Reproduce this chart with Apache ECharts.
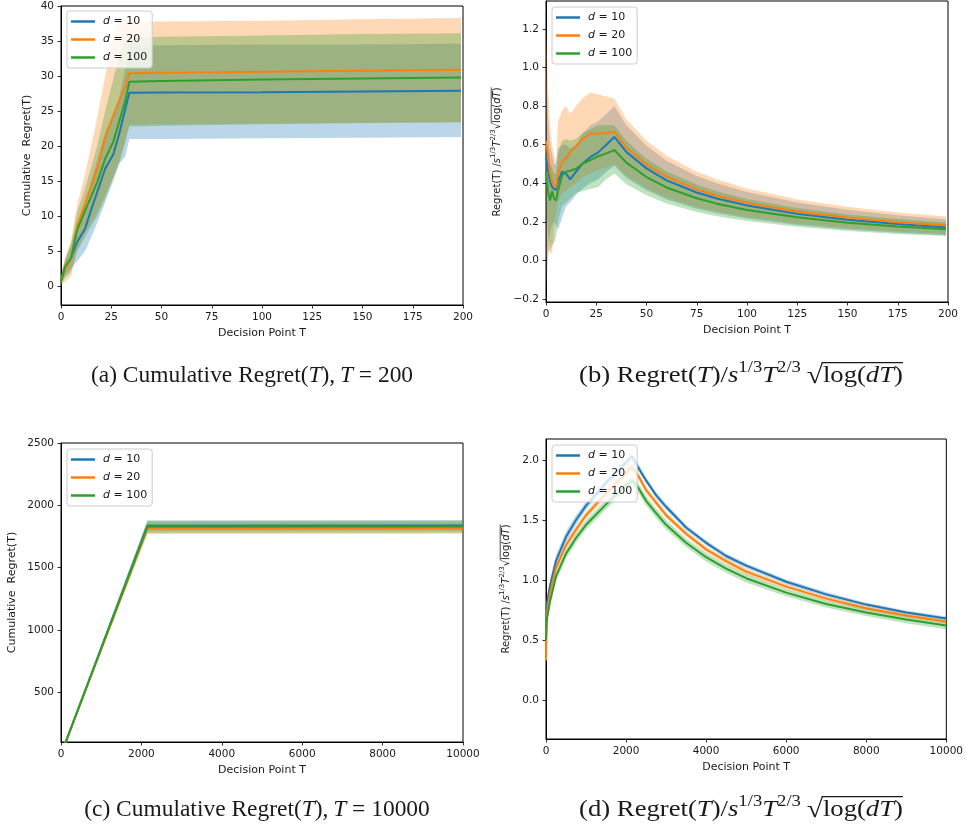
<!DOCTYPE html>
<html>
<head>
<meta charset="utf-8">
<script src="https://cdn.jsdelivr.net/npm/echarts@6/dist/echarts.min.js"></script>
<style>
  html, body { margin: 0; padding: 0; background: #fff; }
  #chart { width: 966px; height: 831px; }
</style>
</head>
<body>
<div id="chart"></div>
<script>
// (a) cumulative regret, T = 200
const tA = [0, 2, 5, 8, 12, 15, 18, 22, 26, 29, 32, 34, 50, 100, 150, 199];
const a10 = [0.8, 2.5, 4.0, 6.3, 8.2, 10.9, 13.4, 16.8, 18.8, 21.8, 25.3, 27.6, 27.65, 27.7, 27.8, 27.9];
const a10Lo = [0.3, 1.5, 2.5, 3.5, 5.0, 7.0, 9.0, 12.0, 15.0, 17.5, 18.5, 21.0, 21.0, 21.1, 21.2, 21.3];
const a10Hi = [1.4, 3.5, 5.8, 9.0, 12.0, 15.0, 18.0, 22.0, 24.5, 27.0, 31.0, 34.3, 34.4, 34.5, 34.5, 34.6];
const a20 = [1.0, 2.4, 3.8, 8.5, 11.8, 14.2, 16.7, 21.2, 24.3, 26.5, 28.5, 30.4, 30.45, 30.6, 30.75, 30.9];
const a20Lo = [0.2, 0.6, 1.5, 5.0, 7.5, 9.0, 10.5, 13.0, 15.5, 18.0, 21.0, 23.0, 23.1, 23.2, 23.3, 23.4];
const a20Hi = [1.6, 4.0, 6.5, 11.5, 16.0, 20.0, 24.0, 30.0, 35.5, 37.5, 37.8, 37.8, 37.8, 37.9, 38.1, 38.3];
const a100 = [0.6, 2.8, 4.0, 8.0, 10.8, 12.8, 14.8, 18.2, 20.6, 23.5, 26.5, 29.2, 29.3, 29.5, 29.65, 29.8];
const a100Lo = [0.2, 1.2, 2.0, 5.0, 7.0, 8.5, 10.0, 12.5, 15.5, 17.5, 20.5, 22.8, 22.9, 23.1, 23.3, 23.4];
const a100Hi = [1.5, 3.8, 6.0, 10.5, 14.0, 17.0, 20.0, 25.0, 29.5, 33.0, 35.0, 35.5, 35.6, 35.8, 36.0, 36.1];

// (b) normalised regret, T = 200
const tB = [0, 1, 2, 3, 4, 5, 6, 8, 10, 12, 15, 18, 22, 26, 30, 34, 40, 50, 60, 75, 85, 100, 125, 150, 175, 199];
const b10 = [0.54, 0.47, 0.41, 0.38, 0.37, 0.365, 0.41, 0.46, 0.45, 0.42, 0.46, 0.50, 0.535, 0.56, 0.60, 0.64, 0.562, 0.477, 0.415, 0.352, 0.321, 0.285, 0.241, 0.211, 0.188, 0.171];
const b10Lo = [-0.15, 0.02, 0.15, 0.18, 0.2, 0.18, 0.16, 0.22, 0.28, 0.30, 0.34, 0.37, 0.40, 0.42, 0.46, 0.49, 0.427, 0.363, 0.315, 0.268, 0.244, 0.217, 0.183, 0.16, 0.143, 0.13];
const b10Hi = [1.0, 0.75, 0.6, 0.55, 0.5, 0.5, 0.58, 0.6, 0.6, 0.58, 0.6, 0.65, 0.7, 0.72, 0.76, 0.8, 0.70, 0.594, 0.517, 0.438, 0.40, 0.355, 0.3, 0.263, 0.234, 0.213];
const b20 = [0.62, 0.55, 0.45, 0.41, 0.385, 0.38, 0.45, 0.51, 0.53, 0.56, 0.59, 0.63, 0.655, 0.658, 0.66, 0.667, 0.585, 0.497, 0.434, 0.368, 0.336, 0.298, 0.253, 0.222, 0.198, 0.182];
const b20Lo = [0.0, 0.05, 0.04, 0.04, 0.15, 0.25, 0.3, 0.35, 0.36, 0.38, 0.4, 0.43, 0.45, 0.47, 0.48, 0.5, 0.439, 0.373, 0.326, 0.276, 0.252, 0.224, 0.19, 0.167, 0.149, 0.137];
const b20Hi = [1.22, 0.9, 0.7, 0.6, 0.55, 0.5, 0.72, 0.78, 0.8, 0.76, 0.8, 0.84, 0.87, 0.86, 0.85, 0.84, 0.731, 0.62, 0.543, 0.46, 0.42, 0.372, 0.316, 0.278, 0.248, 0.228];
const b100 = [0.46, 0.36, 0.31, 0.36, 0.32, 0.31, 0.36, 0.44, 0.46, 0.465, 0.475, 0.5, 0.52, 0.54, 0.555, 0.572, 0.507, 0.432, 0.378, 0.322, 0.294, 0.261, 0.223, 0.195, 0.175, 0.161];
const b100Lo = [0.3, 0.15, 0.05, 0.08, 0.09, 0.12, 0.2, 0.28, 0.3, 0.32, 0.35, 0.36, 0.37, 0.38, 0.42, 0.45, 0.395, 0.337, 0.295, 0.251, 0.229, 0.204, 0.174, 0.152, 0.137, 0.126];
const b100Hi = [0.6, 0.55, 0.5, 0.48, 0.45, 0.45, 0.55, 0.62, 0.63, 0.62, 0.63, 0.66, 0.68, 0.7, 0.7, 0.7, 0.619, 0.527, 0.461, 0.393, 0.359, 0.318, 0.272, 0.238, 0.214, 0.196];

// (c) cumulative regret, T = 10000 (band = mean +- spread)
const tC = [0, 2150, 10000];
const c10 = [0, 1836, 1837];
const c20 = [0, 1815, 1816];
const c100 = [0, 1828, 1829];
const c10Sd = [0, 40, 40];
const c20Sd = [0, 45, 45];
const c100Sd = [0, 50, 50];

// (d) normalised regret, T = 10000
const tD = [0, 20, 100, 250, 500, 750, 1000, 1500, 2000, 2150, 2300, 2500, 2750, 3000, 3500, 4000, 4500, 5000, 6000, 7000, 8000, 9000, 10000];
const d10 = [0.6, 0.8, 0.95, 1.16, 1.36, 1.5, 1.62, 1.81, 1.98, 2.03, 1.94, 1.83, 1.707, 1.61, 1.437, 1.31, 1.2, 1.12, 0.985, 0.88, 0.795, 0.73, 0.68];
const d20 = [0.33, 0.72, 0.89, 1.1, 1.29, 1.42, 1.54, 1.72, 1.89, 1.94, 1.87, 1.75, 1.645, 1.54, 1.385, 1.255, 1.157, 1.07, 0.945, 0.845, 0.765, 0.705, 0.655];
const d100 = [0.5, 0.67, 0.82, 1.03, 1.22, 1.35, 1.46, 1.63, 1.79, 1.83, 1.77, 1.66, 1.557, 1.46, 1.31, 1.19, 1.095, 1.015, 0.895, 0.8, 0.73, 0.67, 0.62];
const d10Sd = [0.05, 0.05, 0.05, 0.05, 0.045, 0.04, 0.035, 0.03, 0.03, 0.03, 0.03, 0.025, 0.025, 0.025, 0.022, 0.02, 0.02, 0.02, 0.02, 0.02, 0.015, 0.015, 0.015];
const d20Sd = [0.03, 0.03, 0.03, 0.03, 0.03, 0.03, 0.03, 0.03, 0.03, 0.03, 0.03, 0.03, 0.028, 0.025, 0.025, 0.025, 0.025, 0.025, 0.02, 0.02, 0.02, 0.02, 0.02];
const d100Sd = [0.04, 0.04, 0.04, 0.04, 0.04, 0.04, 0.04, 0.04, 0.04, 0.04, 0.04, 0.04, 0.04, 0.04, 0.035, 0.035, 0.035, 0.035, 0.03, 0.03, 0.03, 0.03, 0.03];

const names = ['d = 10', 'd = 20', 'd = 100'];
const colors = ['#1f77b4', '#ff7f0e', '#2ca02c'];
const bandColors = ['rgba(31,119,180,0.3)', 'rgba(255,127,14,0.3)', 'rgba(44,160,44,0.3)'];
const FONT = 'DejaVu Sans';
const SERIF = 'Liberation Serif';
const INK = '#1a1a1a';

const lessSd = (m, s) => m.map((v, i) => v - s[i]);
const plusSd = (m, s) => m.map((v, i) => v + s[i]);

const panels = [
  { t: tA, mean: [a10, a20, a100], lo: [a10Lo, a20Lo, a100Lo], hi: [a10Hi, a20Hi, a100Hi] },
  { t: tB, mean: [b10, b20, b100], lo: [b10Lo, b20Lo, b100Lo], hi: [b10Hi, b20Hi, b100Hi] },
  { t: tC, mean: [c10, c20, c100],
    lo: [lessSd(c10, c10Sd), lessSd(c20, c20Sd), lessSd(c100, c100Sd)],
    hi: [plusSd(c10, c10Sd), plusSd(c20, c20Sd), plusSd(c100, c100Sd)] },
  { t: tD, mean: [d10, d20, d100],
    lo: [lessSd(d10, d10Sd), lessSd(d20, d20Sd), lessSd(d100, d100Sd)],
    hi: [plusSd(d10, d10Sd), plusSd(d20, d20Sd), plusSd(d100, d100Sd)] }
];

const grids = [
  { left: 61, top: 6, width: 402, height: 299 },
  { left: 546, top: 1, width: 402, height: 301 },
  { left: 61, top: 443, width: 402, height: 299 },
  { left: 546, top: 439, width: 402, height: 300 }
];

// fill_between-like band: one polygon through the axis scales
function bandSeries(gi, xs, lo, hi, k) {
  return {
    type: 'custom', xAxisIndex: gi, yAxisIndex: gi, silent: true, z: 1, clip: true,
    data: xs.map((x, j) => [x, lo[j], hi[j]]),
    encode: { x: 0, y: [1, 2] },
    renderItem: (params, api) => {
      if (params.dataIndex !== 0) return null;
      const pts = [];
      for (let j = 0; j < xs.length; j++) pts.push(api.coord([xs[j], hi[j]]));
      for (let j = xs.length - 1; j >= 0; j--) pts.push(api.coord([xs[j], lo[j]]));
      return { type: 'polygon', shape: { points: pts }, style: { fill: bandColors[k], stroke: null } };
    }
  };
}

function meanLine(gi, xs, ys, k) {
  return {
    type: 'line', name: names[k], xAxisIndex: gi, yAxisIndex: gi,
    symbol: 'none', showSymbol: false, z: 3, silent: true,
    data: xs.map((x, j) => [x, ys[j]]),
    lineStyle: { color: colors[k], width: 2 },
    itemStyle: { color: colors[k] },
    emphasis: { disabled: true }
  };
}

const series = [];
panels.forEach((p, gi) => {
  for (let k = 0; k < 3; k++) series.push(bandSeries(gi, p.t, p.lo[k], p.hi[k], k));
});
panels.forEach((p, gi) => {
  for (let k = 0; k < 3; k++) series.push(meanLine(gi, p.t, p.mean[k], k));
});

const axisLine = { show: true, onZero: false, lineStyle: { color: '#000', width: 1 } };
const axisTick = { show: true, inside: false, length: 3.5, lineStyle: { color: '#000', width: 0.8 } };
const labelStyle = { fontFamily: FONT, fontSize: 10.5, color: INK, margin: 7 };

const fmtInt = v => String(Math.round(v));
const fmt1 = v => (v < -1e-9 ? '\u2212' : '') + Math.abs(v).toFixed(1);

function xAxisCfg(gi, max, interval) {
  return {
    type: 'value', gridIndex: gi, min: 0, max: max, interval: interval,
    name: 'Decision Point T', nameLocation: 'middle', nameGap: 23,
    nameTextStyle: { fontFamily: FONT, fontSize: 11, color: INK },
    axisLine, axisTick, splitLine: { show: false },
    axisLabel: Object.assign({}, labelStyle, { showMinLabel: true, showMaxLabel: true, formatter: fmtInt })
  };
}

function yAxisCfg(gi, min, max, ticks, fmt, name, gap) {
  return {
    type: 'value', gridIndex: gi, min: min, max: max,
    name: name, nameLocation: 'middle', nameGap: gap,
    nameTextStyle: { fontFamily: FONT, fontSize: 11, color: INK },
    axisLine, splitLine: { show: false },
    axisTick: Object.assign({}, axisTick, { customValues: ticks }),
    axisLabel: Object.assign({}, labelStyle, { customValues: ticks, formatter: fmt })
  };
}

const ticksA = [0, 5, 10, 15, 20, 25, 30, 35, 40];
const ticksB = [-0.2, 0, 0.2, 0.4, 0.6, 0.8, 1.0, 1.2];
const ticksC = [500, 1000, 1500, 2000, 2500];
const ticksD = [0, 0.5, 1.0, 1.5, 2.0];

// math-style text built from pieces (italic, superscript, overline)
const measureCtx = document.createElement('canvas').getContext('2d');
function mathText(parts, cx, cy, size, family, rotation, stretch) {
  let x = 0;
  const spans = parts.map(([t, f = '']) => {
    const fs = f.includes('u') ? size * 0.7 : (f.includes('r') ? size * 1.1 : size);
    const st = f.includes('i') ? 'italic' : 'normal';
    measureCtx.font = st + ' ' + fs + 'px "' + family + '"';
    const w = measureCtx.measureText(t).width;
    const s = { t, fs, st, x, w, up: f.includes('u') ? size * 0.36 : 0, ol: f.includes('o') };
    x += w;
    return s;
  });
  const total = x;
  const kids = spans.map(s => ({
    type: 'text', x: s.x - total / 2, y: -s.up,
    style: {
      text: s.t, fontSize: s.fs, fontFamily: family, fontStyle: s.st, fill: INK,
      align: 'left', textAlign: 'left', verticalAlign: 'middle', textVerticalAlign: 'middle'
    }
  }));
  const ol = spans.filter(s => s.ol);
  if (ol.length) {
    const x1 = ol[0].x - total / 2 - size * 0.05;
    const x2 = ol[ol.length - 1].x + ol[ol.length - 1].w - total / 2;
    kids.push({
      type: 'line', shape: { x1: x1, y1: -size * 0.58, x2: x2, y2: -size * 0.58 },
      style: { stroke: INK, lineWidth: Math.max(0.8, size * 0.05) }
    });
  }
  return { type: 'group', x: cx, y: cy, rotation: rotation || 0, scaleX: stretch || 1, children: kids };
}

const normName = [['Regret(T) /'], ['s', 'i'], ['1/3', 'u'], ['T', 'i'], ['2/3', 'u'], ['\u221A'], ['log(', 'o'], ['dT', 'io'], [')', 'o']];
const capNorm = tag => [[tag + ' Regret('], ['T', 'i'], [')/'], ['s', 'i'], ['1/3', 'u'], ['T', 'i'], ['2/3', 'u'], ['\u2009\u221A', 'r'], ['log(', 'o'], ['dT', 'io'], [')', 'o']];
const capCum = (tag, n) => [[tag + ' Cumulative Regret('], ['T', 'i'], ['),\u2009'], ['T', 'i'], [' = ' + n]];

const CAP = 23;
const graphic = [
  mathText(capCum('(a)', '200'), 252, 376, CAP, SERIF, 0, 1.02),
  mathText(capNorm('(b)'), 741, 376, CAP, SERIF, 0, 1.16),
  mathText(capCum('(c)', '10000'), 257, 810, CAP, SERIF, 0, 1.02),
  mathText(capNorm('(d)'), 741, 810, CAP, SERIF, 0, 1.16),
  mathText(normName, 497, 152, 10, FONT, Math.PI / 2),
  mathText(normName, 506, 589, 10, FONT, Math.PI / 2)
];

const legendPos = [[67, 11], [552, 7], [67, 449], [552, 445]];
const legend = legendPos.map(([l, t]) => ({
  left: l, top: t, orient: 'vertical', data: names, selectedMode: false,
  icon: 'rect', itemWidth: 24, itemHeight: 2.5, itemGap: 7, padding: [5, 5, 5, 4],
  backgroundColor: 'rgba(255,255,255,0.8)', borderColor: '#cccccc', borderWidth: 1, borderRadius: 3,
  formatter: n => '{i|d} = ' + n.split('= ')[1],
  textStyle: {
    fontFamily: FONT, fontSize: 11, color: INK, padding: [0, 0, 0, 3],
    rich: { i: { fontFamily: FONT, fontSize: 11, fontStyle: 'italic', color: INK } }
  }
}));

const option = {
  animation: false,
  backgroundColor: '#fff',
  grid: grids.map(g => Object.assign({ show: true, borderColor: '#000', borderWidth: 1, backgroundColor: 'transparent' }, g)),
  xAxis: [xAxisCfg(0, 200, 25), xAxisCfg(1, 200, 25), xAxisCfg(2, 10000, 2000), xAxisCfg(3, 10000, 2000)],
  yAxis: [
    yAxisCfg(0, -2.7, 40, ticksA, fmtInt, 'Cumulative  Regret(T)', 28),
    yAxisCfg(1, -0.216, 1.345, ticksB, fmt1, '', 40),
    yAxisCfg(2, 100, 2500, ticksC, fmtInt, 'Cumulative  Regret(T)', 43),
    yAxisCfg(3, -0.325, 2.175, ticksD, fmt1, '', 40)
  ],
  legend: legend,
  graphic: graphic,
  series: series
};

const chart = echarts.init(document.getElementById('chart'), null, { renderer: 'canvas' });
chart.setOption(option);
</script>
</body>
</html>
